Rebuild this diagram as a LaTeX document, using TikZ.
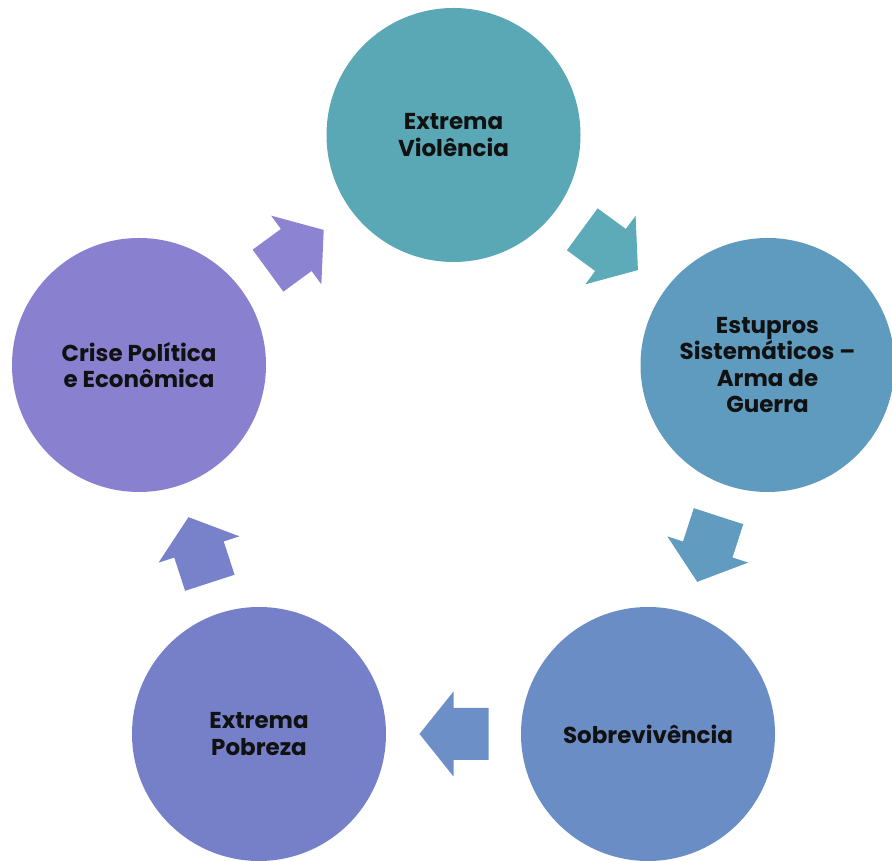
\documentclass[tikz,border=0pt]{standalone}
\usepackage{fontspec}
\setmainfont{Poppins}
\usetikzlibrary{calc}
\definecolor{cA}{HTML}{5AA7B5}
\definecolor{cB}{HTML}{5F9BBE}
\definecolor{cC}{HTML}{6A8DC6}
\definecolor{cD}{HTML}{7680C9}
\definecolor{cE}{HTML}{8A80D0}
\definecolor{aA}{HTML}{5DAAB8}
\definecolor{aB}{HTML}{619CC0}
\definecolor{aC}{HTML}{6C8FC8}
\definecolor{aD}{HTML}{7782CA}
\definecolor{aE}{HTML}{8C83D2}
\definecolor{txt}{HTML}{111111}
\begin{document}
\begin{tikzpicture}[x=1pt,y=1pt,
  bubble/.style={circle, minimum size=254pt, inner sep=0pt, align=center,
    text=txt, font=\fontsize{23}{26.5}\selectfont\bfseries},
]
\useasboundingbox (0,0) rectangle (892,861);
\node[bubble, fill=cA] (v) at (453.5,726) {Extrema\\Violência};
\node[bubble, fill=cB] (e) at (767.5,496) {Estupros\\Sistemáticos –\\Arma de\\Guerra};
\node[bubble, fill=cC] (s) at (648,127) {Sobrevivência};
\node[bubble, fill=cD] (p) at (259,127) {Extrema\\Pobreza};
\node[bubble, fill=cE] (c) at (139,496) {Crise Política\\e Econômica};
\foreach \a/\b/\col in {v/e/aA, e/s/aB, s/p/aC, p/c/aD, c/v/aE}{
  \fill[\col] let \p1=(\a), \p2=(\b), \n1={atan2(\y2-\y1,\x2-\x1)} in
    [shift={($(\a)!0.5!(\b)$)}, rotate=\n1]
    (-35,-26) -- (0,-26) -- (0,-42.5) -- (34,0) -- (0,42.5) -- (0,26) -- (-35,26) -- cycle;
}
\end{tikzpicture}
\end{document}
